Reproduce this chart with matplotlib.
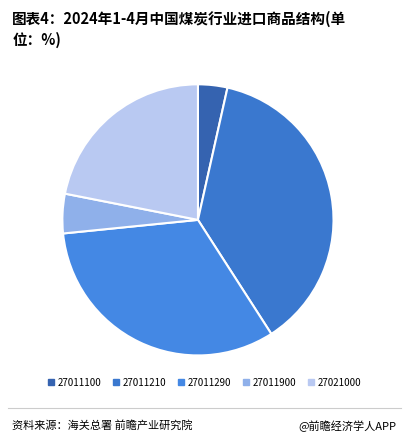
import matplotlib.pyplot as plt
plt.rcParams['font.family'] = ['Noto Sans CJK SC', 'DejaVu Sans']

labels = ['27011100', '27011210', '27011290', '27011900', '27021000']
values = [3.5, 37.4, 32.5, 4.7, 21.9]
colors = ['#3563b0', '#3a78cf', '#4488e4', '#8fb0ea', '#b9c9f2']

fig = plt.figure(figsize=(4.09, 4.46), dpi=100)
fig.text(0.03, 0.975, '图表4：2024年1-4月中国煤炭行业进口商品结构(单\n位：%)', fontsize=10.5,
         fontweight='bold', va='top', ha='left', linespacing=1.3)
ax = fig.add_axes([0.149, 0.2, 0.67, 0.614])
ax.pie(values, colors=colors, startangle=90, counterclock=False,
       wedgeprops=dict(edgecolor='white', linewidth=1.5))
ax.set_xlim(-1.01, 1.01)
ax.set_ylim(-1.01, 1.01)
ax.set_aspect('equal')
from matplotlib.patches import Patch
handles = [Patch(color=c) for c in colors]
fig.legend(handles, labels, loc='center', bbox_to_anchor=(0.5, 0.142), ncol=5,
           frameon=False, fontsize=7, handlelength=0.6, handleheight=0.6,
           columnspacing=1.2, handletextpad=0.4)
fig.add_artist(plt.Line2D([0.02, 0.98], [0.085, 0.085], color='#cccccc', lw=0.8))
fig.text(0.03, 0.045, '资料来源：海关总署 前瞻产业研究院', fontsize=8, va='center')
fig.text(0.97, 0.045, '@前瞻经济学人APP', fontsize=8, va='center', ha='right')
fig.savefig('out.png', dpi=100)
